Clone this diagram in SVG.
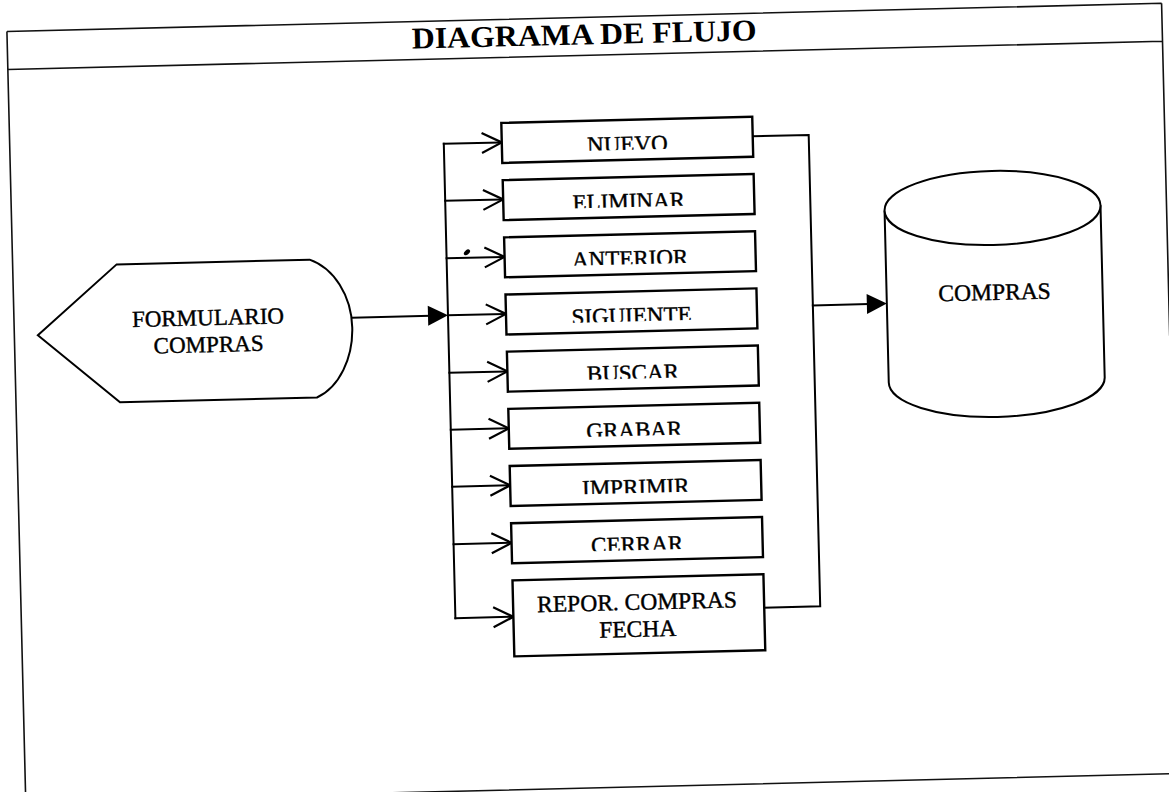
<svg xmlns="http://www.w3.org/2000/svg" width="1169" height="792" viewBox="0 0 1169 792">
  <style>
    .ln { fill: none; stroke: #000; stroke-width: 2; stroke-linecap: square; }
    .frame { fill: none; stroke: #111; stroke-width: 1.6; }
    .box { fill: #fff; stroke: #000; stroke-width: 2.4; }
    .shape { fill: #fff; stroke: #000; stroke-width: 2; }
    .lbl { font-family: "Liberation Serif", "Times New Roman", serif; font-size: 23px; fill: #000; stroke: #000; stroke-width: 0.4; text-anchor: middle; }
    .title { font-family: "Liberation Serif", "Times New Roman", serif; font-size: 30px; font-weight: bold; fill: #000; text-anchor: middle; }
    .open { fill: none; stroke: #000; stroke-width: 2.2; stroke-linejoin: miter; }
    .solid { fill: #000; stroke: none; }
  </style>
  <defs>
    <clipPath id="c1" clipPathUnits="userSpaceOnUse"><rect x="508" y="121" width="251" height="30"/></clipPath>
    <clipPath id="c2" clipPathUnits="userSpaceOnUse"><rect x="508" y="178.2" width="251" height="30"/></clipPath>
    <clipPath id="c3" clipPathUnits="userSpaceOnUse"><rect x="508" y="235.4" width="251" height="30"/></clipPath>
    <clipPath id="c4" clipPathUnits="userSpaceOnUse"><rect x="508" y="292.6" width="251" height="30"/></clipPath>
    <clipPath id="c5" clipPathUnits="userSpaceOnUse"><rect x="508" y="349.8" width="251" height="30"/></clipPath>
    <clipPath id="c6" clipPathUnits="userSpaceOnUse"><rect x="508" y="407" width="251" height="30"/></clipPath>
    <clipPath id="c7" clipPathUnits="userSpaceOnUse"><rect x="508" y="464.2" width="251" height="30"/></clipPath>
    <clipPath id="c8" clipPathUnits="userSpaceOnUse"><rect x="508" y="521.4" width="251" height="30"/></clipPath>
  </defs>
  <rect x="0" y="0" width="1169" height="792" fill="#fff"/>
  <g transform="rotate(-1.4 584 396)">
    <g id="frame">
      <path class="frame" d="M16,17.5 H1171 M16,17.5 V810 M16,55.5 H1171 M1171,17.5 V350 M16,788 H1171"/>
      <text class="title" x="593" y="44.5" textLength="345" lengthAdjust="spacingAndGlyphs">DIAGRAMA DE FLUJO</text>
    </g>
    <g id="connectors">
      <path class="ln" d="M354,312 H432"/>
      <polygon class="solid" points="430,302 450,312 430,322"/>
      <path class="ln" d="M450,140.5 V615"/>
      <path class="ln" d="M450,140.5 H507 M450,197.5 H507 M450,255 H507 M450,312 H507 M450,369.5 H507 M450,426.5 H507 M450,483.5 H507 M450,541 H507 M450,615 H507"/>
      <path class="open" d="M488,130.5 L508,140.5 L488,150.5 M488,187.5 L508,197.5 L488,207.5 M488,245 L508,255 L488,265 M488,302 L508,312 L488,322 M488,359.5 L508,369.5 L488,379.5 M488,416.5 L508,426.5 L488,436.5 M488,473.5 L508,483.5 L488,493.5 M488,531 L508,541 L488,551 M488,605 L508,615 L488,625"/>
      <path class="ln" d="M759,140.5 H815 V612 H759"/>
      <path class="ln" d="M815,311 H870"/>
      <polygon class="solid" points="869,301 889,311 869,321"/>
      <ellipse cx="470.5" cy="249.5" rx="3.6" ry="2.2" transform="rotate(-40 470.5 249.5)" fill="#000"/>
    </g>
    <g id="node-formulario">
      <path class="shape" d="M39.5,322 L120,253 L313,253 C337,262 354,290 354,322 C354,352 340,381 317,391 L120,391 Z"/>
      <text class="lbl" x="210" y="316">FORMULARIO</text>
      <text class="lbl" x="210" y="343">COMPRAS</text>
    </g>
    <g id="node-nuevo">
      <rect class="box" x="508" y="121" width="251" height="40"/>
      <text class="lbl" x="633.5" y="153" clip-path="url(#c1)">NUEVO</text>
    </g>
    <g id="node-eliminar">
      <rect class="box" x="508" y="178.2" width="251" height="40"/>
      <text class="lbl" x="633.5" y="210.2" clip-path="url(#c2)">ELIMINAR</text>
    </g>
    <g id="node-anterior">
      <rect class="box" x="508" y="235.4" width="251" height="40"/>
      <text class="lbl" x="633.5" y="267.4" clip-path="url(#c3)">ANTERIOR</text>
    </g>
    <g id="node-siguiente">
      <rect class="box" x="508" y="292.6" width="251" height="40"/>
      <text class="lbl" x="633.5" y="324.6" clip-path="url(#c4)">SIGUIENTE</text>
    </g>
    <g id="node-buscar">
      <rect class="box" x="508" y="349.8" width="251" height="40"/>
      <text class="lbl" x="633.5" y="381.8" clip-path="url(#c5)">BUSCAR</text>
    </g>
    <g id="node-grabar">
      <rect class="box" x="508" y="407" width="251" height="40"/>
      <text class="lbl" x="633.5" y="439" clip-path="url(#c6)">GRABAR</text>
    </g>
    <g id="node-imprimir">
      <rect class="box" x="508" y="464.2" width="251" height="40"/>
      <text class="lbl" x="633.5" y="496.2" clip-path="url(#c7)">IMPRIMIR</text>
    </g>
    <g id="node-cerrar">
      <rect class="box" x="508" y="521.4" width="251" height="40"/>
      <text class="lbl" x="633.5" y="553.4" clip-path="url(#c8)">CERRAR</text>
    </g>
    <g id="node-reporte">
      <rect class="box" x="508" y="578.6" width="251" height="76"/>
      <text class="lbl" x="632" y="611" style="font-size:23.5px">REPOR. COMPRAS</text>
      <text class="lbl" x="632" y="638" style="font-size:23.5px">FECHA</text>
    </g>
    <g id="node-compras-db">
      <path class="shape" d="M889,218 V390 A108,37 0 0 0 1105,390 V218"/>
      <ellipse class="shape" cx="997" cy="218" rx="108" ry="37"/>
      <text class="lbl" x="997" y="310" style="font-size:23.5px">COMPRAS</text>
    </g>
  </g>
</svg>
